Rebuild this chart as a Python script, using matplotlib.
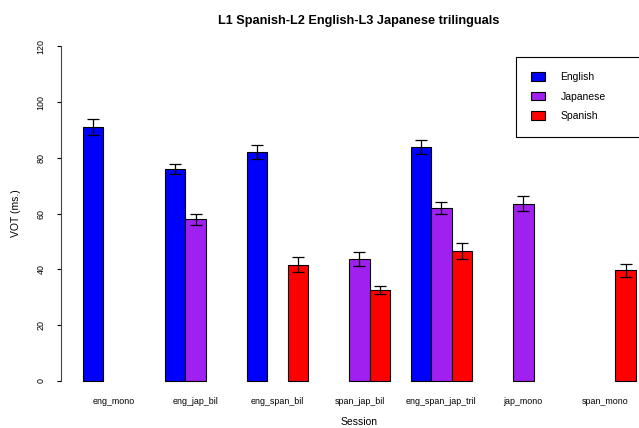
import numpy as np
import matplotlib
matplotlib.use("Agg")
import matplotlib.pyplot as plt
from matplotlib.patches import Patch

plt.rcParams['font.family'] = ['Liberation Sans', 'DejaVu Sans']

# data
sessions = ['eng_mono', 'eng_jap_bil', 'eng_span_bil', 'span_jap_bil',
            'eng_span_jap_tril', 'jap_mono', 'span_mono']
languages = ['English', 'Japanese', 'Spanish']
colors = ['#0000FF', '#A020F0', '#FF0000']

english = [91.1, 76.0, 82.1, np.nan, 84.0, np.nan, np.nan]
japanese = [np.nan, 57.9, np.nan, 43.7, 62.0, 63.6, np.nan]
spanish = [np.nan, np.nan, 41.7, 32.5, 46.7, np.nan, 39.7]

english_se = [2.8, 1.9, 2.5, np.nan, 2.5, np.nan, np.nan]
japanese_se = [np.nan, 2.1, np.nan, 2.5, 2.3, 2.7, np.nan]
spanish_se = [np.nan, np.nan, 2.7, 1.35, 2.9, np.nan, 2.35]

yticks = [0, 20, 40, 60, 80, 100, 120]

W, H = 639, 428
fig = plt.figure(figsize=(W / 100, H / 100), dpi=100)

# R barplot(beside=TRUE): 3 bars per group, one bar of space between groups
x0, x1 = -0.08, 29.08
y0, y1 = -4.8, 124.8
px_l, px_r = 60.9, 658.0
px_t, px_b = 33.1, 394.1
ax = fig.add_axes([px_l / W, 1 - px_b / H, (px_r - px_l) / W, (px_b - px_t) / H])
ax.set_xlim(x0, x1)
ax.set_ylim(y0, y1)

groups = np.arange(len(sessions))
series = [english, japanese, spanish]
errs = [english_se, japanese_se, spanish_se]
for s, (vals, se) in enumerate(zip(series, errs)):
    left = 1 + 4 * groups + s
    vals = np.array(vals, dtype=float)
    se = np.array(se, dtype=float)
    ok = ~np.isnan(vals)
    ax.bar(left[ok], vals[ok], width=1.0, align='edge', color=colors[s],
           edgecolor='black', linewidth=0.8, zorder=2)
    ax.errorbar(left[ok] + 0.5, vals[ok], yerr=se[ok], fmt='none',
                ecolor='black', elinewidth=0.9, capsize=4.4, capthick=0.9,
                zorder=3)

ax.set_xticks(1 + 4 * groups + 1.5)
ax.set_xticklabels(sessions, fontsize=6.4)
ax.tick_params(axis='x', length=0, pad=2.0)

ax.set_yticks(yticks)
ax.set_yticklabels([str(v) for v in yticks], fontsize=6.4, rotation=90, va='center')
ax.tick_params(axis='y', length=2.6, width=0.8, pad=8.5, color='black')

for sp in ['top', 'right', 'bottom']:
    ax.spines[sp].set_visible(False)
ax.spines['left'].set_bounds(0, 120)
ax.spines['left'].set_linewidth(0.8)
ax.spines['left'].set_color('#444444')

fig.text(359 / W, 1 - 20.7 / H, 'L1 Spanish-L2 English-L3 Japanese trilinguals',
         ha='center', va='center', fontsize=9.2, fontweight='bold')
fig.text(359.5 / W, 1 - 422 / H, 'Session', ha='center', va='center', fontsize=7.5)
fig.text(16 / W, 1 - 213.6 / H, 'VOT (ms.)', ha='center', va='center',
         fontsize=7.5, rotation=90)

handles = [Patch(facecolor=c, edgecolor='black', linewidth=0.8) for c in colors]
leg = fig.legend(handles, languages, loc='upper left',
                 bbox_to_anchor=(515.7 / W, 1 - 56.7 / H, 160 / W, 0.0),
                 mode='expand', borderaxespad=0, fontsize=7.5,
                 handlelength=1.3, handleheight=0.9, handletextpad=1.5,
                 labelspacing=0.9, borderpad=1.5, fancybox=False,
                 edgecolor='black', framealpha=1)
leg.get_frame().set_linewidth(0.8)

fig.savefig('out.png', dpi=100)
